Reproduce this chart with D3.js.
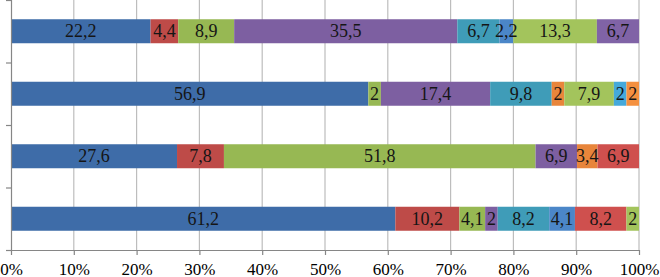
<!DOCTYPE html>
<html>
<head>
<meta charset="utf-8">
<script src="https://cdn.jsdelivr.net/npm/d3@7"></script>
<style>
  html, body { margin: 0; padding: 0; background: #fff; }
  svg { display: block; }
  .serif { font-family: "Liberation Serif", "Times New Roman", Tinos, "Noto Serif", "DejaVu Serif", serif; }
</style>
</head>
<body>
<div id="chart"></div>
<script>
// rows from top to bottom (no category labels shown in the chart)
const categories = ["r1", "r2", "r3", "r4"];

// 12 series, one value per row; 0 = not present
const seriesNames = ["s1", "s2", "s3", "s4", "s5", "s6", "s7", "s8", "s9", "s10", "s11", "s12"];
const s1  = [22.2, 56.9, 27.6, 61.2];
const s2  = [4.4, 0, 7.8, 10.2];
const s3  = [8.9, 2, 51.8, 4.1];
const s4  = [35.5, 17.4, 6.9, 2];
const s5  = [6.7, 9.8, 0, 8.2];
const s6  = [0, 2, 3.4, 0];
const s7  = [2.2, 0, 0, 4.1];
const s8  = [0, 0, 6.9, 8.2];
const s9  = [13.3, 7.9, 0, 2];
const s10 = [6.7, 0, 0, 0];
const s11 = [0, 2, 0, 0];
const s12 = [0, 2, 0, 0];
const seriesValues = [s1, s2, s3, s4, s5, s6, s7, s8, s9, s10, s11, s12];

const seriesColors = ["#3e6ca8", "#be4b48", "#97b853", "#7d5fa1", "#3f9cb8", "#e8853b",
                      "#4b86c8", "#cf504e", "#a3c45c", "#8063a6", "#45a9db", "#f4903f"];

const xTicks = [0, 0.1, 0.2, 0.3, 0.4, 0.5, 0.6, 0.7, 0.8, 0.9, 1];

const width = 660, height = 277;
const margin = { left: 11, right: 21, top: 0, bottom: 27 };

const svg = d3.select("#chart").append("svg")
    .attr("width", width).attr("height", height);

// build table for d3.stack
const table = categories.map((c, i) => {
    const row = { cat: c };
    seriesNames.forEach((s, k) => { row[s] = seriesValues[k][i]; });
    return row;
});

const stacked = d3.stack()
    .keys(seriesNames)
    .offset(d3.stackOffsetExpand)(table);

const x = d3.scaleLinear().domain([0, 1]).range([margin.left, width - margin.right]);
const y = d3.scaleBand().domain(categories)
    .range([margin.top, height - margin.bottom])
    .paddingInner(0.616).paddingOuter(0.308);

// vertical gridlines
svg.append("g").selectAll("line")
    .data(xTicks.slice(1))
    .enter().append("line")
    .attr("x1", d => x(d)).attr("x2", d => x(d))
    .attr("y1", margin.top).attr("y2", height - margin.bottom)
    .attr("stroke", "#bdbdbd").attr("stroke-width", 1.2);

// bars
const layers = svg.append("g").selectAll("g")
    .data(stacked)
    .enter().append("g")
    .attr("fill", (d, i) => seriesColors[i]);

layers.selectAll("rect")
    .data(d => d.map(p => ({ p, cat: p.data.cat })))
    .enter().append("rect")
    .attr("x", d => x(d.p[0]))
    .attr("width", d => x(d.p[1]) - x(d.p[0]))
    .attr("y", d => y(d.cat))
    .attr("height", y.bandwidth());

// data labels
const fmt = v => String(v).replace(".", ",");
stacked.forEach((layer, k) => {
    svg.append("g").selectAll("text")
        .data(layer.filter(p => p[1] - p[0] > 0))
        .enter().append("text")
        .attr("class", "serif")
        .attr("x", p => (x(p[0]) + x(p[1])) / 2)
        .attr("y", p => y(p.data.cat) + y.bandwidth() / 2 + 6)
        .attr("text-anchor", "middle")
        .style("font-size", "18px")
        .style("fill", "#151515")
        .text(p => fmt(p.data[layer.key]));
});

// left axis with ticks between rows
const yEdges = d3.scaleLinear().domain([0, categories.length])
    .range([margin.top, height - margin.bottom]);
svg.append("g")
    .attr("transform", `translate(${margin.left},0)`)
    .call(d3.axisLeft(yEdges).tickValues(d3.range(0, categories.length + 1)).tickSize(5).tickFormat(""))
    .call(g => g.selectAll("path, line").attr("stroke", "#868686").attr("stroke-width", 1.2));

// bottom axis
svg.append("g")
    .attr("transform", `translate(0,${height - margin.bottom})`)
    .attr("font-family", null)
    .call(d3.axisBottom(x).tickValues(xTicks).tickSize(5).tickSizeOuter(0).tickFormat(d3.format(".0%")))
    .call(g => g.attr("font-family", null).attr("font-size", null))
    .call(g => g.selectAll("path, line").attr("stroke", "#868686").attr("stroke-width", 1.2))
    .call(g => g.selectAll("text")
        .attr("class", "serif")
        .attr("y", 13)
        .style("font-size", "17px")
        .style("fill", "#000"));
</script>
</body>
</html>
